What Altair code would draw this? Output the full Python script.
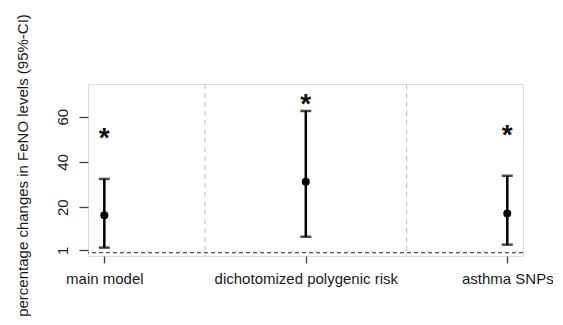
import json
import altair as alt
import pandas as pd

categories = ["main model", "dichotomized polygenic risk", "asthma SNPs"]
positions = [1, 2, 3]
estimate = [16.5, 31.3, 17.3]
lower = [2.2, 7.0, 3.5]
upper = [32.5, 62.5, 33.9]
star_y = [53.7, 68.8, 54.9]
separators = [1.5, 2.5]
y_ticks = [1, 10, 20, 30, 40, 50, 60, 70]
y_labelled = [1, 20, 40, 60]

df = pd.DataFrame({"pos": positions, "cat": categories, "est": estimate,
                   "lo": lower, "hi": upper, "star": star_y})
sep_df = pd.DataFrame({"sep": separators})

FONT = "Liberation Sans"
xscale = alt.Scale(domain=[0.919, 3.078], nice=False, zero=False)
yscale = alt.Scale(domain=[-1.5, 74.4], nice=False, zero=False)

x_label_expr = json.dumps(categories) + "[datum.value - 1]"
y_label_expr = "indexof(" + json.dumps(y_labelled) + ", datum.value) >= 0 ? datum.label : ''"

xaxis = alt.Axis(values=positions, labelExpr=x_label_expr, title=None, grid=False,
                 domain=False, tickSize=7, tickColor="#444", tickWidth=1.3,
                 labelFont=FONT, labelFontSize=15, labelColor="#1a1a1a",
                 labelPadding=8, labelAngle=0, labelLimit=0)
yaxis = alt.Axis(values=y_ticks, labelExpr=y_label_expr,
                 title="percentage changes in FeNO levels (95%-CI)",
                 grid=False, domain=False, tickSize=9, tickColor="#444", tickWidth=1.3,
                 labelFont=FONT, labelFontSize=15, labelColor="#1a1a1a",
                 labelAngle=270, labelAlign="center", labelBaseline="alphabetic",
                 labelPadding=12, titleFont=FONT, titleFontSize=15,
                 titleFontWeight="normal", titleColor="#1a1a1a",
                 titleAngle=270, titleAlign="center", titleBaseline="middle",
                 titleX=-66, titleY=81)

base = alt.Chart(df)

vsep = alt.Chart(sep_df).mark_rule(color="#c8c8c8", strokeWidth=1.2, strokeDash=[5, 4]).encode(
    x=alt.X("sep:Q", scale=xscale, axis=xaxis))

hzero = alt.Chart(sep_df.head(1)).mark_rule(color="#555", strokeWidth=1.3, strokeDash=[4, 3]).encode(
    y=alt.Y("z:Q", scale=yscale, axis=yaxis)).transform_calculate(z="0")

bars = base.mark_rule(color="black", strokeWidth=2.5).encode(
    x=alt.X("pos:Q", scale=xscale, axis=xaxis),
    y=alt.Y("lo:Q", scale=yscale, axis=yaxis), y2="hi:Q")

cap_lo = base.mark_tick(color="black", orient="horizontal", size=11, thickness=2.5).encode(
    x=alt.X("pos:Q", scale=xscale), y=alt.Y("lo:Q", scale=yscale))
cap_hi = base.mark_tick(color="black", orient="horizontal", size=11, thickness=2.5).encode(
    x=alt.X("pos:Q", scale=xscale), y=alt.Y("hi:Q", scale=yscale))

pts = base.mark_circle(color="black", size=64, opacity=1).encode(
    x=alt.X("pos:Q", scale=xscale), y=alt.Y("est:Q", scale=yscale))

stars = base.mark_text(text="*", font=FONT, fontSize=28, fontWeight="bold",
                       baseline="alphabetic", dy=16, color="#111").encode(
    x=alt.X("pos:Q", scale=xscale), y=alt.Y("star:Q", scale=yscale))

chart = alt.layer(vsep, hzero, bars, cap_lo, cap_hi, pts, stars).properties(
    width=435, height=172,
    autosize=alt.AutoSizeParams(type="none"),
    padding={"left": 80, "top": 76, "right": 30, "bottom": 60},
).configure_view(stroke="#444", strokeWidth=1.8).configure(background="white")

chart.save("out.html", embed_options={"renderer": "svg", "actions": False})
